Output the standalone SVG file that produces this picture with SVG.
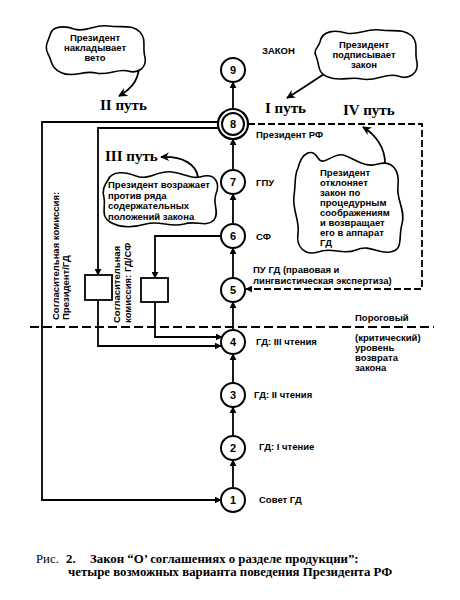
<svg xmlns="http://www.w3.org/2000/svg" width="460" height="600" viewBox="0 0 460 600">
<defs>
<marker id="ah" viewBox="0 0 10 10" refX="9" refY="5" markerWidth="7" markerHeight="7" markerUnits="userSpaceOnUse" orient="auto"><path d="M0,0 L10,5 L0,10 Z" fill="#000"/></marker>
<marker id="ahs" viewBox="0 0 10 10" refX="9" refY="5" markerWidth="9" markerHeight="9" markerUnits="userSpaceOnUse" orient="auto"><path d="M0,0 L10,5 L0,10 L3,5 Z" fill="#000"/></marker>
<style>
.n{fill:#fff;stroke:#000;stroke-width:2}
.num{font-family:"Liberation Sans",Arial,sans-serif;font-weight:bold;font-size:11px;text-anchor:middle}
.lb{font-family:"Liberation Sans",Arial,sans-serif;font-weight:bold;font-size:9.5px}
.cl{fill:#fff;stroke:#000;stroke-width:1.6}
.path{font-family:"Liberation Serif","Times New Roman",serif;font-weight:bold;font-size:15px}
.ln{fill:none;stroke:#000;stroke-width:1.8}
.ds{fill:none;stroke:#000;stroke-width:1.8;stroke-dasharray:7,3}
.cap{font-family:"Liberation Serif","Times New Roman",serif;font-size:12.8px}
</style>
</defs>
<rect width="460" height="600" fill="#fff"/>

<g id="connectors">
<line class="ln" x1="233" y1="488" x2="233" y2="460" marker-end="url(#ah)"/>
<line class="ln" x1="233" y1="436" x2="233" y2="407" marker-end="url(#ah)"/>
<line class="ln" x1="233" y1="383" x2="233" y2="354" marker-end="url(#ah)"/>
<line class="ln" x1="233" y1="330" x2="233" y2="302" marker-end="url(#ah)"/>
<line class="ln" x1="233" y1="278" x2="233" y2="248" marker-end="url(#ah)"/>
<line class="ln" x1="233" y1="224" x2="233" y2="194" marker-end="url(#ah)"/>
<line class="ln" x1="233" y1="170" x2="233" y2="139" marker-end="url(#ah)"/>
<line class="ln" x1="233" y1="109" x2="233" y2="82" marker-end="url(#ah)"/>
<polyline class="ln" points="219,122 42,122 42,500 221,500" marker-end="url(#ah)"/>
<polyline class="ln" points="219,128 98,128 98,275" marker-end="url(#ah)"/>
<polyline class="ln" points="98,300 98,346 221,346" marker-end="url(#ah)"/>
<polyline class="ln" points="221,236 155,236 155,278" marker-end="url(#ah)"/>
<polyline class="ln" points="155,302 155,337 222,337" marker-end="url(#ah)"/>
<polyline class="ds" points="248,124 422,124 422,289 246,289" marker-end="url(#ah)"/>
<line x1="30" y1="327" x2="434" y2="327" stroke="#000" stroke-width="2" stroke-dasharray="9,4"/>
<path class="ln" d="M139,62 C140,78 133,88 119,96" marker-end="url(#ahs)"/>
<path class="ln" d="M327,72 C312,82 300,90 287,98" marker-end="url(#ahs)"/>
<path class="ln" d="M198,177 C196,165 184,156 161,157" marker-end="url(#ahs)"/>
<path class="ln" d="M385,163 C385,148 376,135 363,127" marker-end="url(#ahs)"/>
</g>

<g id="node9"><circle class="n" cx="233" cy="70" r="12"/><text class="num" x="233" y="74">9</text></g>
<g id="node8"><circle cx="233" cy="124" r="15" fill="#fff" stroke="#000" stroke-width="2.2"/><circle class="n" cx="233" cy="124" r="11"/><text class="num" x="233" y="128">8</text></g>
<g id="node7"><circle class="n" cx="233" cy="182" r="12"/><text class="num" x="233" y="186">7</text></g>
<g id="node6"><circle class="n" cx="233" cy="236" r="12"/><text class="num" x="233" y="240">6</text></g>
<g id="node5"><circle class="n" cx="233" cy="290" r="12"/><text class="num" x="233" y="294">5</text></g>
<g id="node4"><circle class="n" cx="233" cy="342" r="12"/><text class="num" x="233" y="346">4</text></g>
<g id="node3"><circle class="n" cx="233" cy="395" r="12"/><text class="num" x="233" y="399">3</text></g>
<g id="node2"><circle class="n" cx="233" cy="448" r="12"/><text class="num" x="233" y="452">2</text></g>
<g id="node1"><circle class="n" cx="233" cy="500" r="12"/><text class="num" x="233" y="504">1</text></g>

<g id="labels">
<text class="lb" x="262" y="54">ЗАКОН</text>
<text class="lb" x="256" y="138">Президент РФ</text>
<text class="lb" x="256" y="186">ГПУ</text>
<text class="lb" x="256" y="240">СФ</text>
<text class="lb" x="253" y="273">ПУ ГД (правовая и</text>
<text class="lb" x="253" y="284">лингвистическая экспертиза)</text>
<text class="lb" x="256" y="345">ГД: III чтения</text>
<text class="lb" x="254" y="398">ГД: II чтения</text>
<text class="lb" x="259" y="450">ГД: I чтение</text>
<text class="lb" x="259" y="503">Совет ГД</text>
<text class="lb" x="355" y="321">Пороговый</text>
<text class="lb" x="355" y="341">(критический)</text>
<text class="lb" x="355" y="351">уровень</text>
<text class="lb" x="355" y="361">возврата</text>
<text class="lb" x="355" y="371">закона</text>
</g>

<g id="box-pres-gd">
<rect x="85" y="275" width="27" height="25" fill="#fff" stroke="#000" stroke-width="1.8"/>
<text class="lb" transform="translate(59,320) rotate(-90)">Согласительная комиссия:</text>
<text class="lb" transform="translate(69,320) rotate(-90)">Президент/ГД</text>
</g>
<g id="box-gd-sf">
<rect x="141" y="278" width="27" height="24" fill="#fff" stroke="#000" stroke-width="1.8"/>
<text class="lb" transform="translate(120,323) rotate(-90)">Согласительная</text>
<text class="lb" transform="translate(131,323) rotate(-90)">комиссия: ГД/СФ</text>
</g>

<g id="cloud-veto">
<path class="cl" d="M50,35 C52,25 66,26 74,29 C86,33 94,24 108,26 C122,28 132,24 140,32 C147,40 142,48 145,57 C147,68 138,74 128,71 C118,68 108,76 96,73 C84,70 74,78 62,73 C50,68 52,60 48,54 C44,46 48,42 50,35 Z"/>
<text class="lb" text-anchor="middle" x="95" y="41">Президент</text>
<text class="lb" text-anchor="middle" x="95" y="51">накладывает</text>
<text class="lb" text-anchor="middle" x="95" y="61">вето</text>
</g>
<g id="cloud-sign">
<path class="cl" d="M320,42 C322,30 336,30 346,33 C358,36 366,28 380,30 C394,32 402,28 412,36 C419,44 414,52 417,62 C419,74 408,80 398,76 C386,72 376,82 362,79 C350,76 340,82 328,77 C316,72 320,64 316,56 C313,50 318,48 320,42 Z"/>
<text class="lb" text-anchor="middle" x="364" y="48">Президент</text>
<text class="lb" text-anchor="middle" x="364" y="58">подписывает</text>
<text class="lb" text-anchor="middle" x="364" y="68">закон</text>
</g>
<g id="cloud-object">
<path class="cl" d="M108,180 C112,170 126,172 136,176 C148,181 158,170 172,172 C186,174 192,180 204,176 C216,174 220,184 216,194 C212,204 220,212 214,220 C206,228 196,220 184,224 C170,228 160,220 146,224 C132,228 120,228 110,222 C100,216 106,206 104,198 C102,190 104,186 108,180 Z"/>
<text class="lb" x="108" y="188">Президент возражает</text>
<text class="lb" x="108" y="198.5">против ряда</text>
<text class="lb" x="108" y="209">содержательных</text>
<text class="lb" x="108" y="219.5">положений закона</text>
</g>
<g id="cloud-reject">
<path class="cl" d="M298,168 C302,152 312,148 318,158 C324,168 334,150 346,156 C356,160 366,168 378,164 C392,160 400,170 398,186 C396,200 406,210 402,224 C398,238 404,250 390,252 C378,254 370,244 356,250 C342,256 332,246 318,252 C304,256 296,246 298,234 C300,220 292,210 294,196 C296,182 294,176 298,168 Z"/>
<text class="lb" x="320" y="176">Президент</text>
<text class="lb" x="320" y="186">отклоняет</text>
<text class="lb" x="320" y="196">закон по</text>
<text class="lb" x="320" y="206">процедурным</text>
<text class="lb" x="320" y="216">соображениям</text>
<text class="lb" x="320" y="226">и возвращает</text>
<text class="lb" x="320" y="236">его в аппарат</text>
<text class="lb" x="320" y="246">ГД</text>
</g>

<g id="path-labels">
<text class="path" x="100" y="110">II путь</text>
<text class="path" x="265" y="113">I путь</text>
<text class="path" x="343" y="115">IV путь</text>
<text class="path" x="105" y="161">III путь</text>
</g>

<g id="caption">
<text class="cap" x="36" y="563">Рис.</text>
<text class="cap" font-weight="bold" x="66" y="563">2.</text>
<text class="cap" font-weight="bold" x="90" y="563">Закон “О’ соглашениях о разделе продукции”:</text>
<text class="cap" font-weight="bold" x="68" y="576">четыре возможных варианта поведения Президента РФ</text>
</g>
</svg>
